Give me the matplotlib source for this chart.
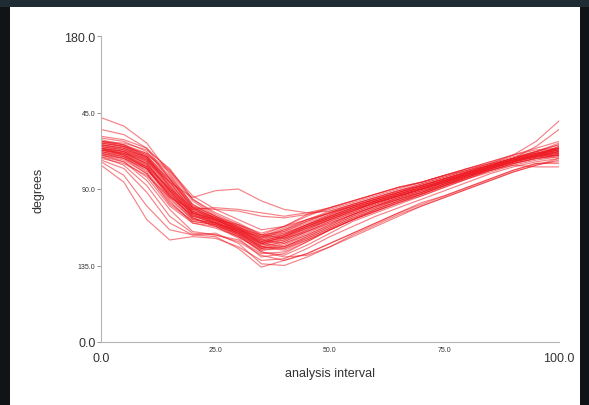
import numpy as np
import matplotlib.pyplot as plt
from matplotlib.patches import Rectangle

plt.rcParams['font.family'] = ['Liberation Sans', 'DejaVu Sans']

##
#    Data: angle (degrees) at every 5 % of the analysis interval
##
interval = [0, 5, 10, 15, 20, 25, 30, 35, 40, 45, 50, 55, 60, 65, 70, 75, 80, 85, 90, 95, 100]

trial_01 = [48, 53, 63, 81, 99, 107, 113, 119, 115, 109, 104, 99, 95, 91, 87, 83, 79, 75, 70, 62, 50]
trial_02 = [55, 58, 66, 84, 101, 107, 114, 122, 118, 112, 106, 101, 97, 93, 89, 85, 81, 77, 72, 65, 55]
trial_03 = [62, 63, 67, 78, 96, 104, 110, 117, 115, 110, 105, 100, 96, 92, 88, 84, 80, 76, 72, 68, 64]
trial_04 = [64, 66, 72, 88, 104, 110, 116, 124, 121, 115, 109, 104, 99, 94, 90, 86, 81, 77, 73, 70, 67]
trial_05 = [68, 71, 80, 97, 110, 113, 118, 126, 124, 118, 112, 106, 101, 96, 92, 87, 82, 78, 74, 71, 69]
trial_06 = [70, 74, 85, 102, 115, 117, 120, 128, 127, 121, 114, 108, 103, 98, 93, 88, 83, 79, 75, 72, 70]
trial_07 = [66, 68, 74, 86, 95, 91, 90, 97, 102, 104, 103, 99, 95, 91, 87, 83, 79, 75, 71, 68, 66]
trial_08 = [72, 75, 82, 95, 102, 101, 102, 104, 106, 104, 101, 97, 93, 89, 86, 82, 78, 75, 72, 69, 67]
trial_09 = [76, 86, 108, 120, 118, 119, 124, 132, 131, 125, 118, 112, 106, 101, 96, 91, 86, 81, 77, 74, 72]
trial_10 = [74, 82, 100, 114, 117, 116, 122, 134, 135, 130, 124, 117, 111, 105, 100, 95, 90, 85, 80, 76, 73]
trial_11 = [60, 62, 68, 84, 100, 106, 112, 120, 122, 117, 111, 105, 100, 95, 91, 87, 82, 78, 74, 70, 66]
trial_12 = [63, 65, 70, 80, 97, 106, 113, 121, 119, 113, 107, 102, 98, 94, 90, 86, 82, 78, 74, 71, 68]
trial_13 = [65, 67, 73, 90, 106, 110, 115, 122, 118, 112, 107, 102, 98, 94, 90, 86, 81, 77, 73, 70, 67]
trial_14 = [67, 69, 75, 92, 107, 111, 117, 125, 122, 116, 110, 105, 100, 95, 91, 86, 82, 77, 73, 70, 68]
trial_15 = [61, 64, 71, 89, 103, 107, 112, 118, 114, 109, 104, 100, 96, 92, 88, 84, 80, 76, 72, 69, 66]
trial_16 = [66, 70, 78, 94, 106, 110, 117, 127, 129, 123, 116, 109, 104, 99, 94, 89, 84, 79, 75, 72, 70]
trial_17 = [69, 72, 79, 93, 104, 108, 114, 121, 117, 111, 106, 101, 97, 93, 89, 85, 81, 77, 73, 70, 68]
trial_18 = [62, 64, 69, 82, 100, 108, 115, 123, 120, 114, 108, 103, 98, 94, 90, 86, 82, 78, 74, 70, 65]
trial_19 = [67, 69, 73, 84, 101, 109, 116, 124, 126, 120, 114, 108, 103, 98, 94, 89, 84, 80, 76, 73, 71]
trial_20 = [64, 67, 74, 91, 105, 109, 113, 117, 112, 105, 101, 97, 93, 89, 86, 82, 78, 74, 70, 66, 62]
trial_21 = [70, 73, 81, 98, 109, 111, 115, 120, 116, 111, 106, 101, 97, 93, 89, 85, 81, 77, 73, 70, 69]
trial_22 = [65, 68, 76, 93, 107, 112, 119, 130, 128, 121, 114, 108, 102, 97, 93, 88, 83, 78, 74, 71, 68]
trial_23 = [63, 65, 69, 79, 94, 102, 108, 114, 112, 108, 104, 100, 96, 92, 88, 84, 80, 76, 72, 69, 66]
trial_24 = [68, 70, 76, 90, 104, 109, 116, 125, 123, 117, 111, 105, 100, 96, 91, 87, 82, 78, 74, 71, 70]
trial_25 = [71, 76, 88, 106, 116, 117, 121, 129, 132, 128, 122, 116, 110, 104, 98, 94, 89, 84, 79, 75, 75]
trial_26 = [59, 61, 66, 79, 96, 105, 111, 118, 116, 111, 106, 101, 97, 93, 89, 85, 80, 76, 72, 68, 63]
trial_27 = [66, 68, 72, 86, 103, 110, 114, 119, 114, 108, 103, 99, 95, 91, 88, 84, 80, 76, 72, 69, 66]
trial_28 = [64, 66, 73, 89, 104, 108, 113, 122, 124, 118, 112, 106, 101, 96, 92, 87, 83, 78, 74, 71, 69]
trial_29 = [67, 70, 77, 95, 108, 110, 114, 118, 113, 108, 104, 100, 96, 92, 88, 84, 80, 76, 72, 69, 67]
trial_30 = [69, 71, 77, 90, 101, 102, 103, 106, 107, 105, 102, 98, 94, 90, 86, 82, 79, 76, 72, 70, 70]
trial_31 = [73, 78, 92, 110, 117, 118, 125, 136, 132, 128, 122, 116, 110, 104, 99, 94, 89, 84, 79, 75, 74]
trial_32 = [62, 64, 70, 86, 102, 108, 114, 121, 117, 111, 105, 100, 96, 92, 88, 84, 80, 76, 72, 68, 64]
trial_33 = [65, 67, 71, 83, 99, 106, 111, 117, 119, 115, 110, 105, 100, 96, 92, 87, 83, 78, 74, 71, 68]
trial_34 = [66, 69, 77, 94, 106, 108, 111, 116, 112, 106, 101, 97, 93, 89, 86, 82, 78, 74, 70, 67, 66]
trial_35 = [68, 71, 78, 92, 105, 111, 118, 126, 125, 119, 113, 107, 102, 97, 93, 88, 84, 79, 75, 72, 70]
trial_36 = [63, 65, 71, 87, 102, 107, 112, 119, 117, 112, 107, 102, 98, 94, 90, 86, 81, 77, 73, 70, 66]
trial_37 = [67, 69, 75, 91, 105, 110, 116, 124, 121, 115, 109, 104, 99, 95, 90, 86, 82, 79, 76, 77, 77]
trial_38 = [70, 72, 78, 94, 107, 112, 118, 127, 130, 129, 124, 118, 112, 106, 100, 95, 90, 85, 80, 76, 72]
trial_39 = [66, 68, 75, 91, 104, 108, 114, 122, 120, 114, 108, 103, 98, 94, 90, 85, 81, 77, 73, 70, 67]
trial_40 = [69, 72, 81, 99, 109, 111, 117, 125, 124, 119, 113, 107, 102, 97, 92, 88, 83, 79, 75, 72, 71]
trial_41 = [64, 66, 71, 85, 101, 107, 113, 120, 118, 113, 108, 103, 98, 94, 90, 86, 81, 77, 73, 70, 65]
trial_42 = [67, 70, 78, 96, 108, 110, 115, 123, 119, 113, 108, 103, 98, 94, 90, 85, 81, 77, 73, 70, 68]
trial_43 = [62, 65, 72, 88, 103, 108, 115, 124, 125, 120, 114, 108, 103, 98, 93, 88, 83, 78, 74, 70, 66]
trial_44 = [71, 74, 83, 100, 110, 112, 116, 122, 118, 112, 107, 102, 97, 93, 89, 85, 81, 77, 73, 71, 70]

trials = [trial_01, trial_02, trial_03, trial_04, trial_05, trial_06, trial_07, trial_08,
          trial_09, trial_10, trial_11, trial_12, trial_13, trial_14, trial_15, trial_16,
          trial_17, trial_18, trial_19, trial_20, trial_21, trial_22, trial_23, trial_24,
          trial_25, trial_26, trial_27, trial_28, trial_29, trial_30, trial_31, trial_32,
          trial_33, trial_34, trial_35, trial_36, trial_37, trial_38, trial_39, trial_40,
          trial_41, trial_42, trial_43, trial_44]

y_ticks = [0, 45, 90, 135, 180]
y_tick_labels = ["180.0", "45.0", "90.0", "135.0", "0.0"]
x_ticks = [0, 25, 50, 75, 100]
x_tick_labels = ["0.0", "25.0", "50.0", "75.0", "100.0"]

##
#    Figure with the dark frame round a white panel
##
fig = plt.figure(figsize=(5.89, 4.06), dpi=100, facecolor='#111417')
fig.patches.append(Rectangle((0, 0.98), 1, 0.02, transform=fig.transFigure,
                             facecolor='#1f2c34', edgecolor='none', zorder=-2))
fig.patches.append(Rectangle((10 / 589, 0), 570 / 589, 398 / 406, transform=fig.transFigure,
                             facecolor='white', edgecolor='none', zorder=-1))

ax = fig.add_axes([101 / 589, 63 / 406, 458 / 589, 306 / 406])
ax.set_facecolor('none')

for tr in trials:
    ax.plot(interval, tr, color='#ee1c25', linewidth=0.85, alpha=0.55)

ax.set_xlim(0, 100)
ax.set_ylim(180, 0)                       #  degrees grow downwards

for s in ['top', 'right']:
    ax.spines[s].set_visible(False)
for s in ['left', 'bottom']:
    ax.spines[s].set_color('#b5b5b5')
    ax.spines[s].set_linewidth(0.8)

ax.set_yticks(y_ticks)
ax.set_yticklabels(y_tick_labels)
ax.tick_params(axis='y', length=3, width=0.6, color='#888888', pad=1, labelcolor='#333333')
for lab in ax.get_yticklabels():
    if lab.get_text() in ("180.0", "0.0"):
        lab.set_fontsize(9)
    else:
        lab.set_fontsize(5)

ax.set_xticks(x_ticks)
ax.set_xticklabels(x_tick_labels)
ax.tick_params(axis='x', length=0, pad=3, labelcolor='#333333')
for lab in ax.get_xticklabels():
    if lab.get_text() in ("0.0", "100.0"):
        lab.set_fontsize(9)
        lab.set_y(-0.02)
    else:
        lab.set_fontsize(5)

ax.set_xlabel("analysis interval", fontsize=9, color='#333333', labelpad=2)
ax.set_ylabel("degrees", fontsize=9, color='#333333', labelpad=14)

fig.savefig("out.png", dpi=100, facecolor=fig.get_facecolor())
